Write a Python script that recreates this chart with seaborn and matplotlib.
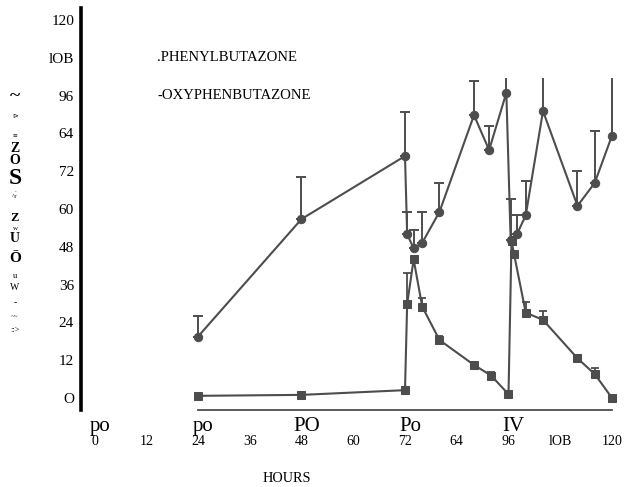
import matplotlib
matplotlib.use("Agg")
import matplotlib.pyplot as plt
import seaborn as sns
import numpy as np
import pandas as pd

# phenylbutazone (circles) and oxyphenbutazone (squares), mean + upper SD
circ_hours = [24, 48, 72, 72.5, 74, 76, 80, 88, 91.5, 95.5, 96.5, 98, 100, 104, 112, 116, 120]
circ_conc = [19.5, 56.8, 76.8, 52, 47.5, 49.3, 59.1, 89.8, 78.7, 96.9, 50.2, 52.1, 58, 91.1, 61, 68.3, 83.3]
circ_top = [26, 70.2, 90.9, 59.1, 53.3, 59.1, 68.3, 100.7, 86.3, 101.6, 63.2, 58.1, 68.9, 101.6, 72.1, 84.8, 101.6]
circ_cap = [1, 1, 1, 1, 1, 1, 1, 1, 1, 0, 1, 1, 1, 0, 1, 1, 0]

sq_hours = [24, 48, 72, 72.5, 74, 76, 80, 88, 92, 96, 96.7, 97.3, 100, 104, 112, 116, 120]
sq_conc = [0.7, 1.0, 2.5, 29.8, 44, 29, 18.4, 10.5, 7.1, 1.2, 49.8, 45.6, 27.1, 24.8, 12.6, 7.6, 0]
sq_top = [0, 0, 0, 39.7, 0, 31.8, 19.7, 11.5, 8.4, 0, 0, 0, 30.6, 27.7, 0, 9.6, 0]

xtick_vals = [0, 12, 24, 36, 48, 60, 72, 84, 96, 108, 120]
xtick_text = ['0', '12', '24', '36', '48', '60', '72', '64', '96', 'lOB', '120']
ytick_vals = [0, 12, 24, 36, 48, 60, 72, 84, 96, 108, 120]
ytick_text = ['O', '12', '24', '36', '48', '60', '72', '64', '96', 'lOB', '120']
dose_hours = [0, 24, 48, 72, 96]
dose_text = ['po', 'po', 'PO', 'Po', 'IV']

sns.set_style("white")
plt.rcParams['font.family'] = ['Liberation Serif', 'DejaVu Sans']
plt.rcParams['text.color'] = 'black'
plt.rcParams['xtick.color'] = 'black'
plt.rcParams['ytick.color'] = 'black'

df = pd.concat([
    pd.DataFrame({'hours': circ_hours, 'conc': circ_conc, 'drug': 'PHENYLBUTAZONE'}),
    pd.DataFrame({'hours': sq_hours, 'conc': sq_conc, 'drug': 'OXYPHENBUTAZONE'}),
])

line_col = '#4d4d4d'
fig = plt.figure(figsize=(6.25, 4.87), dpi=100)
ax = fig.add_axes([0.1296, 0.1581, 0.8634, 0.8255])

sns.lineplot(data=df, x='hours', y='conc', style='drug',
             markers={'PHENYLBUTAZONE': 'o', 'OXYPHENBUTAZONE': 's'},
             dashes=False, color=line_col, linewidth=1.5, markersize=6,
             markeredgecolor=line_col, errorbar=None, legend=False, ax=ax, zorder=3)

# error bars (upper only), kept behind the markers
ch = np.array(circ_hours); cc = np.array(circ_conc); ct = np.array(circ_top); cap = np.array(circ_cap) == 1
ax.errorbar(ch[cap], cc[cap], yerr=[np.zeros(cap.sum()), (ct - cc)[cap]], fmt='none',
            ecolor=line_col, elinewidth=1.4, capsize=3.5, capthick=1.4, zorder=1)
ax.errorbar(ch[~cap], cc[~cap], yerr=[np.zeros((~cap).sum()), (ct - cc)[~cap]], fmt='none',
            ecolor=line_col, elinewidth=1.4, capsize=0, zorder=1)
sh = np.array(sq_hours); sc = np.array(sq_conc); st = np.array(sq_top); m = st > 0
ax.errorbar(sh[m], sc[m], yerr=[np.zeros(m.sum()), (st - sc)[m]], fmt='none',
            ecolor=line_col, elinewidth=1.3, capsize=3, capthick=1.3, zorder=1)

ax.set_xlim(-3.13, 122)
ax.set_ylim(-3.8, 123.8)

for s in ['top', 'right']:
    ax.spines[s].set_visible(False)
ax.spines['left'].set_linewidth(2.6)
ax.spines['left'].set_color('black')
ax.spines['bottom'].set_bounds(24, 120)
ax.spines['bottom'].set_color(line_col)
ax.spines['bottom'].set_linewidth(1.3)

ax.set_yticks(ytick_vals)
ax.set_yticklabels(ytick_text, fontsize=11)
ax.tick_params(axis='y', length=0, pad=5)

ax.set_xticks(xtick_vals)
ax.set_xticklabels(xtick_text, fontsize=10)
ax.set_xticks(np.arange(24, 121, 6), minor=True)
ax.tick_params(axis='x', which='major', length=0, pad=18)
ax.tick_params(axis='x', which='minor', length=5, direction='inout', color=line_col, width=1.2)
ax.set_xlabel('')
ax.set_ylabel('')

for h, t in zip(dose_hours, dose_text):
    ax.text(h + 1.2, -0.042, t, transform=ax.get_xaxis_transform(),
            ha='center', va='center', fontsize=15)

ax.text(14.5, 108, '.PHENYLBUTAZONE', fontsize=10.6, va='center', ha='left')
ax.text(14.7, 96, '-OXYPHENBUTAZONE', fontsize=10.6, va='center', ha='left')

fig.text(287 / 625, 1 - 478 / 487, 'HOURS', fontsize=10.3, ha='center', va='center')

# garbled vertical axis title from the scan
ylab = [('~', 97, 14), ('⊳', 117, 5), ('≡', 135, 6), ('Z', 148, 10), ('O', 160, 10),
        ('S', 178, 17), ('.', 191, 5), ('^r', 197, 5), ('Z', 218, 9), ('w', 228, 5),
        ('U', 238, 10), ('Ō', 259, 11), ('u', 276, 6), ('W', 287, 7), ('-', 303, 7),
        ('~~', 317, 5), ('::>', 330, 6)]
for ch_, y, fs in ylab:
    fig.text(15 / 625, 1 - y / 487, ch_, fontsize=fs, ha='center', va='center',
             fontweight='bold' if fs >= 9 else 'normal')

plt.savefig('out.png', dpi=100)
